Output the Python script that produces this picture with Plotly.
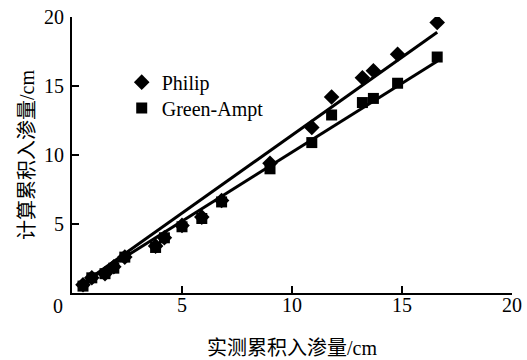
import plotly.graph_objects as go

# Measured vs calculated cumulative infiltration (cm)
measured = [0.5, 0.9, 1.5, 1.9, 2.4, 3.8, 4.2, 5.0, 5.9, 6.8, 9.0, 10.9, 11.8, 13.2, 13.7, 14.8, 16.6]
philip = [0.6, 1.1, 1.4, 1.9, 2.6, 3.4, 4.0, 4.9, 5.5, 6.7, 9.4, 12.0, 14.2, 15.6, 16.1, 17.3, 19.6]
green_ampt = [0.5, 1.1, 1.4, 1.8, 2.6, 3.3, 4.0, 4.8, 5.4, 6.6, 9.0, 10.9, 12.9, 13.8, 14.1, 15.2, 17.1]

# Trend lines (end points)
philip_fit_x = [0.5, 16.6]
philip_fit_y = [0.7, 18.9]
ga_fit_x = [0.5, 16.6]
ga_fit_y = [0.7, 16.8]

tick_vals = [0, 5, 10, 15, 20]
tick_text = ["", "5", "10", "15", "20"]

serif = "'Liberation Serif', 'DejaVu Serif', serif"
cjk = "'Liberation Serif', 'Noto Sans CJK SC', serif"

fig = go.Figure()
fig.add_trace(go.Scatter(x=philip_fit_x, y=philip_fit_y, mode="lines",
                         line=dict(color="black", width=3), showlegend=False, hoverinfo="skip"))
fig.add_trace(go.Scatter(x=ga_fit_x, y=ga_fit_y, mode="lines",
                         line=dict(color="black", width=3), showlegend=False, hoverinfo="skip"))
fig.add_trace(go.Scatter(x=measured, y=philip, mode="markers", name="Philip", legend="legend",
                         marker=dict(symbol="diamond", size=12, color="black")))
fig.add_trace(go.Scatter(x=measured, y=green_ampt, mode="markers", name="Green-Ampt", legend="legend2",
                         marker=dict(symbol="square", size=11, color="black")))

leg_common = dict(xanchor="left", yanchor="middle", bgcolor="rgba(0,0,0,0)",
                  font=dict(size=20, family=serif), itemwidth=30)

fig.update_layout(
    width=527, height=360,
    margin=dict(l=72, r=15, t=17, b=67),
    paper_bgcolor="white", plot_bgcolor="white",
    font=dict(family=serif, size=20, color="black"),
    showlegend=True,
    legend=dict(x=0.113, y=0.764, **leg_common),
    legend2=dict(x=0.113, y=0.670, **leg_common),
    annotations=[
        dict(x=0, y=0, xref="x", yref="y", text="0", showarrow=False,
             xshift=-14, yshift=-13, font=dict(size=20, family=serif)),
        dict(x=0.5, y=0, xref="paper", yref="paper", text="实测累积入渗量/cm",
             showarrow=False, xanchor="center", yanchor="middle", yshift=-55,
             font=dict(size=20, family=cjk)),
        dict(x=0, y=0.5, xref="paper", yref="paper", text="计算累积入渗量/cm",
             showarrow=False, xanchor="center", yanchor="middle", xshift=-45,
             textangle=-90, font=dict(size=20, family=cjk)),
    ],
)
fig.update_xaxes(range=[0, 20], tickvals=tick_vals, ticktext=tick_text, automargin=False,
                 ticks="inside", ticklen=7, tickwidth=1.5, tickcolor="black",
                 tickfont=dict(family=serif, size=20), ticklabelstandoff=-7,
                 showline=True, linecolor="black", linewidth=2, showgrid=False, zeroline=False)
fig.update_yaxes(range=[0, 20], tickvals=tick_vals, ticktext=tick_text, automargin=False,
                 ticks="inside", ticklen=7, tickwidth=1.5, tickcolor="black",
                 tickfont=dict(family=serif, size=20), ticklabelstandoff=2,
                 showline=True, linecolor="black", linewidth=2, showgrid=False, zeroline=False)

fig.write_html("out.html")
